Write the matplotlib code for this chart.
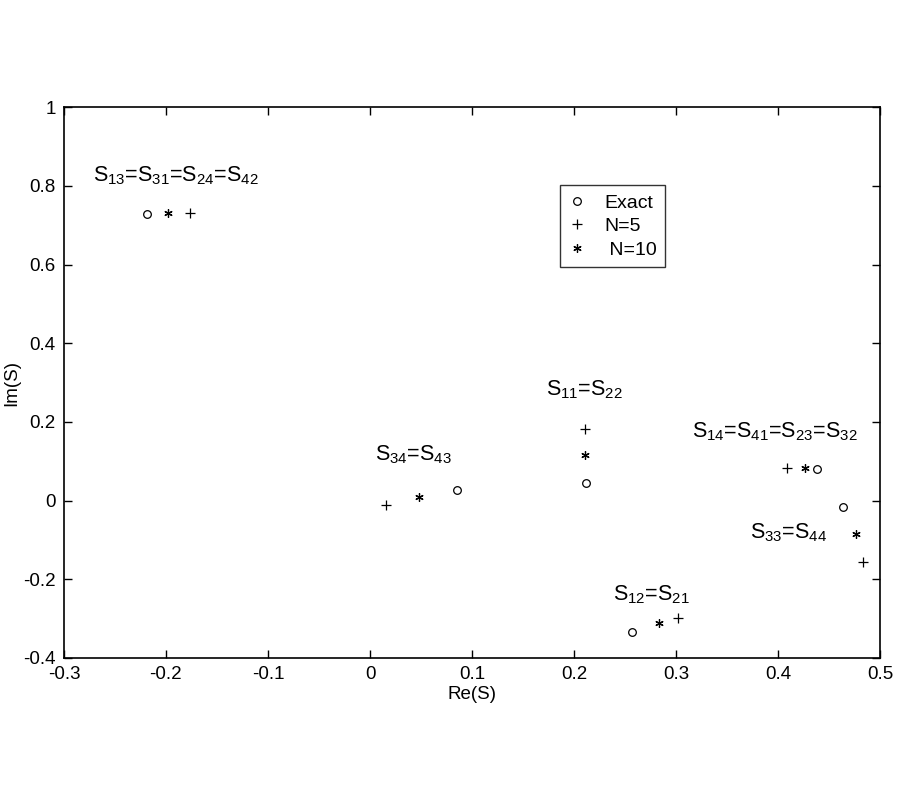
import matplotlib.pyplot as plt

plt.rcParams['font.family'] = ['Liberation Sans', 'DejaVu Sans']
plt.rcParams['mathtext.fontset'] = 'custom'
plt.rcParams['mathtext.rm'] = 'Liberation Sans'
plt.rcParams['mathtext.it'] = 'Liberation Sans'

# Re/Im of S-parameters: exact, N=5, N=10
exact_re = [-0.219, 0.085, 0.212, 0.438, 0.464, 0.257]
exact_im = [0.729, 0.027, 0.045, 0.080, -0.015, -0.333]
n5_re = [-0.176, 0.016, 0.211, 0.409, 0.483, 0.302]
n5_im = [0.731, -0.011, 0.181, 0.082, -0.155, -0.299]
n10_re = [-0.198, 0.048, 0.211, 0.426, 0.476, 0.283]
n10_im = [0.731, 0.009, 0.116, 0.082, -0.085, -0.312]

labels = ['S$_{13}$=S$_{31}$=S$_{24}$=S$_{42}$', 'S$_{34}$=S$_{43}$',
          'S$_{11}$=S$_{22}$', 'S$_{14}$=S$_{41}$=S$_{23}$=S$_{32}$',
          'S$_{33}$=S$_{44}$', 'S$_{12}$=S$_{21}$']
label_x = [-0.271, 0.005, 0.172, 0.316, 0.372, 0.238]
label_y = [0.827, 0.116, 0.281, 0.174, -0.082, -0.240]

fig = plt.figure(figsize=(9, 8), dpi=100)
ax = fig.add_axes([0.071, 0.1775, 0.907, 0.6885])

ax.plot(exact_re, exact_im, 'o', mfc='none', mec='black', ms=5.5, mew=0.9, label='Exact')
ax.plot(n5_re, n5_im, '+', color='black', ms=7, mew=0.9, label='N=5')
ax.plot(n10_re, n10_im, marker=(6, 2, 0), ls='none', color='black', ms=6, mew=0.9,
        label=' N=10')

for s, x, y in zip(labels, label_x, label_y):
    ax.text(x, y, s, fontsize=15.5, va='center', ha='left')

ax.set_xlim(-0.3, 0.5)
ax.set_ylim(-0.4, 1)
ax.set_xticks([-0.3, -0.2, -0.1, 0, 0.1, 0.2, 0.3, 0.4, 0.5])
ax.set_xticklabels(['-0.3', '-0.2', '-0.1', '0', '0.1', '0.2', '0.3', '0.4', '0.5'])
ax.set_yticks([-0.4, -0.2, 0, 0.2, 0.4, 0.6, 0.8, 1])
ax.set_yticklabels(['-0.4', '-0.2', '0', '0.2', '0.4', '0.6', '0.8', '1'])
ax.tick_params(direction='in', top=True, right=True, labelsize=13.5, length=6, width=1,
               pad=6)
for sp in ax.spines.values():
    sp.set_linewidth(1.2)
ax.set_xlabel('Re(S)', fontsize=13.5, labelpad=2)
ax.set_ylabel('Im(S)', fontsize=13.5, labelpad=2)

leg = ax.legend(loc='upper left', bbox_to_anchor=(0.608, 0.858), borderaxespad=0,
                fontsize=14, frameon=True, fancybox=False, edgecolor='black',
                handlelength=0.8, handletextpad=1.0, labelspacing=0.3,
                borderpad=0.45)
leg.get_frame().set_linewidth(1.0)

fig.savefig('out.png', dpi=100)
